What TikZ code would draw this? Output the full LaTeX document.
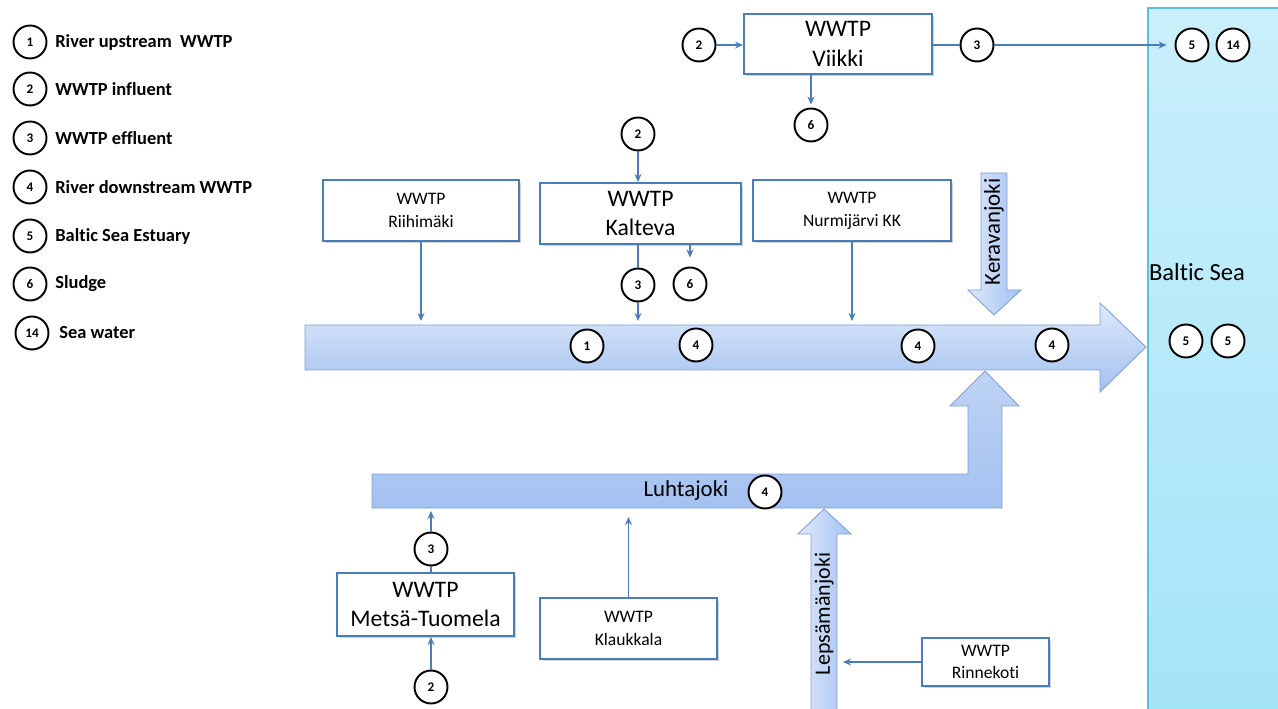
\documentclass[tikz,border=0pt]{standalone}
\usepackage{fontspec}
\setmainfont[Ligatures=NoCommon]{Carlito}
\usetikzlibrary{arrows.meta,shadows}
\definecolor{boxblue}{RGB}{74,126,187}
\definecolor{rivlight}{RGB}{222,233,251}
\definecolor{rivdark}{RGB}{163,193,240}
\definecolor{rivedge}{RGB}{128,160,210}
\definecolor{seatop}{RGB}{202,239,251}
\definecolor{seabot}{RGB}{164,228,248}
\definecolor{seaedge}{RGB}{96,190,222}

\begin{document}
\begin{tikzpicture}[x=0.02cm,y=-0.02cm,>={Stealth[length=1.6mm,width=1.4mm]},
    smp/.style={circle,draw=black,line width=1.1pt,fill=white,minimum size=0.66cm,inner sep=0pt,font=\fontsize{7.5}{8}\selectfont\bfseries},
    wwtp/.style={rectangle,draw=boxblue,line width=1.1pt,fill=white,align=center,
      drop shadow={shadow xshift=0.05cm,shadow yshift=-0.05cm,opacity=0.3,fill=black!60}},
    small/.style={font=\fontsize{10}{13}\selectfont},
    large/.style={font=\fontsize{13.5}{17}\selectfont},
    flow/.style={->,draw=boxblue,line width=0.8pt},
    link/.style={draw=boxblue,line width=0.8pt},
    river/.style={draw=rivedge,line width=0.5pt,top color=rivlight,bottom color=rivdark},
    legtxt/.style={anchor=west,inner sep=0pt,font=\fontsize{10.5}{12}\selectfont\bfseries}]
  \useasboundingbox (0,0) rectangle (1278,709);

  % sea
  \draw[seaedge,line width=0.8pt,top color=seatop,bottom color=seabot] (1148,8) rectangle (1282,713);
  \node[font=\fontsize{14}{16}\selectfont] (baltic) at (1197,272) {Baltic Sea};
  \node[smp] (bs5a) at (1186,341) {5};
  \node[smp] (bs5b) at (1228,341) {5};

  % legend
  \node[smp] (leg1) at (30,42) {1};
  \node[legtxt] at (55,42) {River upstream\ \ WWTP};
  \node[smp] (leg2) at (30,89) {2};
  \node[legtxt] at (55,89) {WWTP influent};
  \node[smp] (leg3) at (30,138) {3};
  \node[legtxt] at (55,138) {WWTP effluent};
  \node[smp] (leg4) at (30,187) {4};
  \node[legtxt] at (55,187) {River downstream WWTP};
  \node[smp] (leg5) at (30,236) {5};
  \node[legtxt] at (55,236) {Baltic Sea Estuary};
  \node[smp] (leg6) at (30,284) {6};
  \node[legtxt] at (55,284) {Sludge};
  \node[smp] (leg14) at (32,333) {14};
  \node[legtxt] at (59,333) {Sea water};

  % rivers
  \draw[river] (305,325) -- (1100,325) -- (1100,303) -- (1146,347) -- (1100,392) -- (1100,370) -- (305,370) -- cycle;
  \draw[river,top color=rivdark!70!white,bottom color=rivdark] (372,474) -- (968,474) -- (968,406) -- (950,406) -- (985,371)
    -- (1019,406) -- (1002,406) -- (1002,508) -- (372,508) -- cycle;
  \draw[river,left color=rivlight,right color=rivdark] (981,173) -- (1007,173) -- (1007,290) -- (1021,290) -- (994,315)
    -- (968,290) -- (981,290) -- cycle;
  \draw[river,left color=rivlight,right color=rivdark] (811,709) -- (811,534) -- (798,534) -- (824,509) -- (851,534)
    -- (837,534) -- (837,709);
  \node[rotate=90,font=\fontsize{13}{15}\selectfont] (kerava) at (994,232) {Keravanjoki};
  \node[rotate=90,font=\fontsize{12.5}{15}\selectfont] (lepsa) at (824,614) {Lepsämänjoki};
  \node[font=\fontsize{13}{15}\selectfont] (luhta) at (686,491) {Luhtajoki};
  \node[smp] (lu4) at (765,492) {4};
  \coordinate (rivtop) at (700,321);
  \coordinate (lubot) at (600,511);
  \coordinate (lepedge) at (843,600);

  \node[smp] (r1) at (587,346) {1};
  \node[smp] (r4a) at (696,345) {4};
  \node[smp] (r4b) at (918,346) {4};
  \node[smp] (r4c) at (1052,345) {4};

  % Viikki
  \node[wwtp,large,minimum width=3.76cm,minimum height=1.2cm] (viikki) at (838,44) {WWTP\\Viikki};
  \node[smp] (vin) at (699,45) {2};
  \node[smp] (vout) at (977,45) {3};
  \node[smp] (vsea) at (1192,45) {5};
  \node[smp] (vsw) at (1233,45) {14};
  \node[smp] (vsl) at (811,125) {6};
  \draw[flow] (vin) -- (vin -| viikki.west);
  \draw[link] (vout -| viikki.east) -- (vout);
  \draw[flow,shorten >=0.16cm] (vout) -- (vsea);
  \draw[flow,shorten >=0.06cm] (viikki.south -| vsl) -- (vsl);

  % upper plants
  \node[wwtp,small,minimum width=3.92cm,minimum height=1.22cm] (riihi) at (421,210.5) {WWTP\\Riihimäki};
  \node[wwtp,large,minimum width=4.02cm,minimum height=1.22cm] (kalteva) at (640.5,213.5) {WWTP\\Kalteva};
  \node[wwtp,small,minimum width=3.96cm,minimum height=1.22cm] (nurmi) at (852,210.5) {WWTP\\Nurmijärvi KK};
  \node[smp] (kin) at (638,134) {2};
  \node[smp] (kout) at (638,285) {3};
  \node[smp] (ksl) at (690,284) {6};
  \draw[flow] (kin) -- (kin |- kalteva.north);
  \draw[link] (kalteva.south -| kout) -- (kout);
  \draw[flow,shorten >=0.18cm] (kalteva.south -| ksl) -- (ksl);
  \draw[flow] (kout) -- (kout |- rivtop);
  \draw[flow] (riihi) -- (riihi |- rivtop);
  \draw[flow] (nurmi) -- (nurmi |- rivtop);

  % lower plants
  \node[wwtp,large,minimum width=3.54cm,minimum height=1.26cm] (metsa) at (425.5,604.5) {WWTP\\Metsä-Tuomela};
  \node[wwtp,small,minimum width=3.54cm,minimum height=1.22cm] (klauk) at (628.5,628.5) {WWTP\\Klaukkala};
  \node[wwtp,small,minimum width=2.54cm,minimum height=0.96cm] (rinne) at (985.5,662) {WWTP\\Rinnekoti};
  \node[smp] (mout) at (431,549) {3};
  \node[smp] (min) at (431,687) {2};
  \draw[link] (metsa.north -| mout) -- (mout);
  \draw[flow] (mout) -- (mout |- lubot);
  \draw[flow] (min) -- (min |- metsa.south);
  \draw[flow,shorten >=0.12cm] (klauk) -- (klauk |- lubot);
  \draw[flow] (rinne) -- (rinne -| lepedge);
\end{tikzpicture}
\end{document}
